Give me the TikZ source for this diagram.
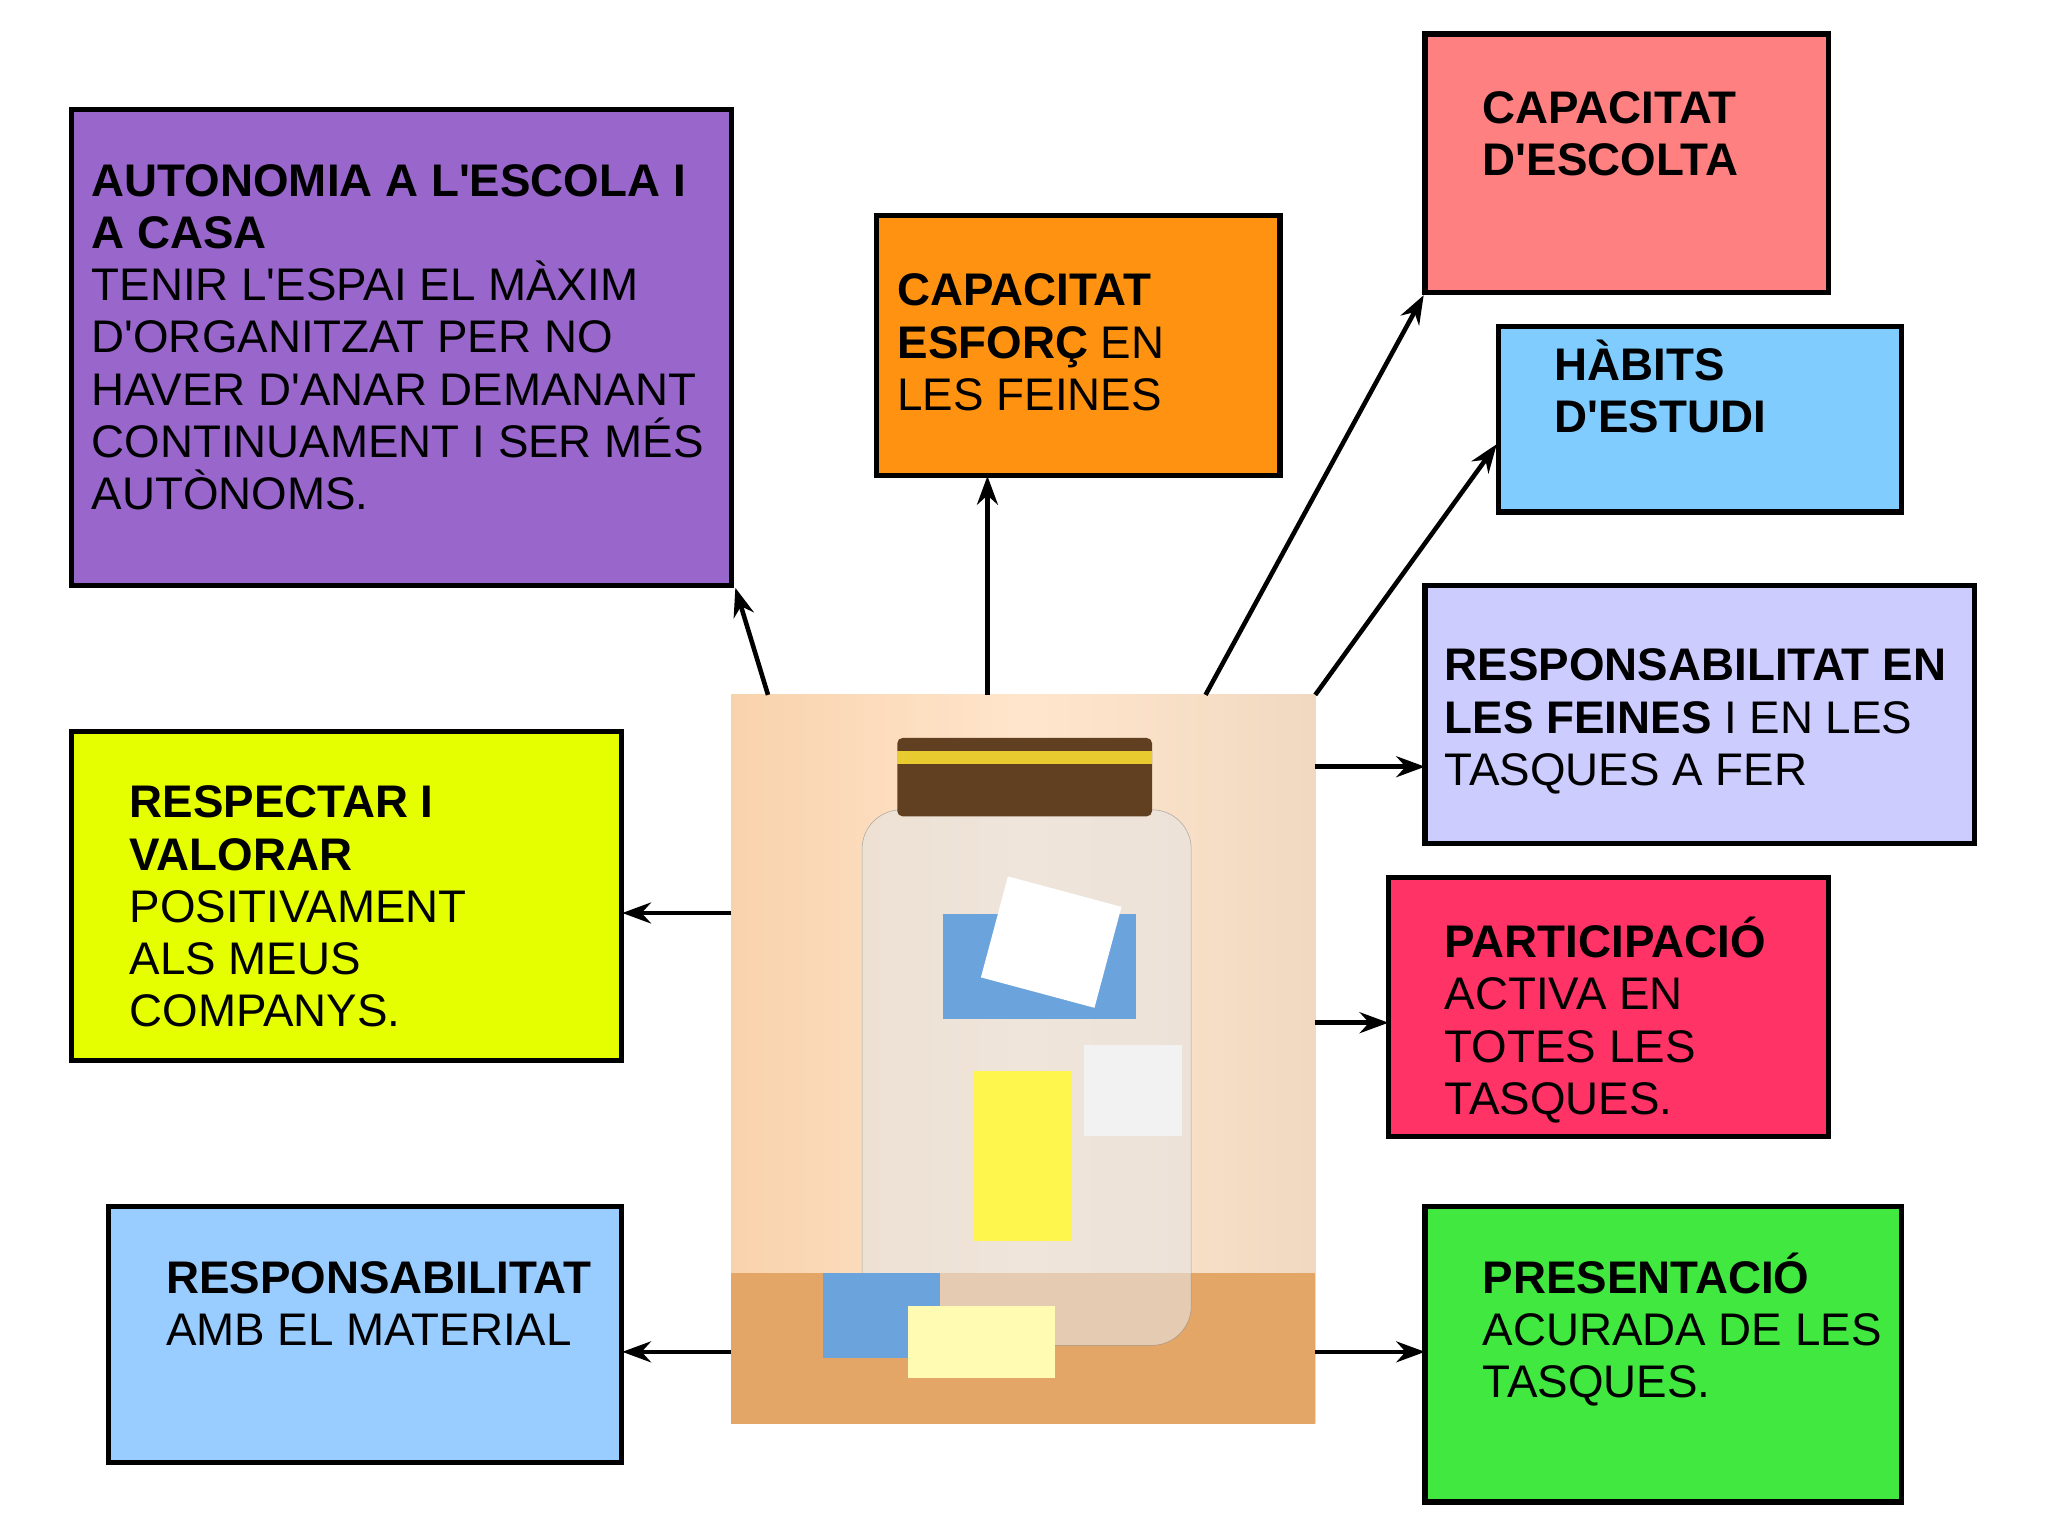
\documentclass[tikz,border=0pt]{standalone}
\usepackage{fontspec}
\usetikzlibrary{arrows.meta}
\newfontfamily\lib{Liberation Sans}
\newcommand\ap{'}
\definecolor{cpurple}{HTML}{9966CC}
\definecolor{corange}{HTML}{FF9311}
\definecolor{cpink}{HTML}{FF8080}
\definecolor{chab}{HTML}{80CCFF}
\definecolor{clav}{HTML}{CCCCFF}
\definecolor{cred}{HTML}{FF3366}
\definecolor{cgreen}{HTML}{40E840}
\definecolor{cyel}{HTML}{E6FF00}
\definecolor{cblue}{HTML}{99CCFF}
\begin{document}
\begin{tikzpicture}[x=1pt,y=-1pt,
 box/.style={draw=black,line width=4pt},
 txt/.style={anchor=north west,align=left,inner sep=0pt,font=\lib\fontsize{35}{40}\selectfont},
 arr/.style={line width=3.5pt,-{Stealth[length=22pt,width=16pt]}}]
\useasboundingbox[fill=white] (0,0) rectangle (1568,1176);
% jar picture
\fill[left color=brown!30!orange!35,right color=orange!25!brown!30,middle color=orange!20] (560,532) rectangle (1007,1090);
\fill[brown!60!orange!70] (560,975) rectangle (1007,1090);
\node[inner sep=0pt,minimum width=447pt,minimum height=558pt,anchor=north west] (jar) at (560,532) {};
\fill[white!80!gray,opacity=0.6,draw=gray,rounded corners=30pt] (660,620) rectangle (912,1030);
\fill[brown!50!black,rounded corners=4pt] (687,565) rectangle (882,625);
\fill[yellow!60!brown] (687,575) rectangle (882,585);
\fill[cyan!60!blue!60] (722,700) rectangle (870,780);
\fill[white,rotate around={-15:(800,720)}] (760,680) rectangle (850,760);
\fill[yellow!70] (745,820) rectangle (820,950);
\fill[white!90!gray] (830,800) rectangle (905,870);
\fill[cyan!60!blue!60] (630,975) rectangle (720,1040);
\fill[yellow!30] (695,1000) rectangle (808,1055);
% boxes
\draw[box,fill=cpurple] (55,84) rectangle (560,448);
\node[inner sep=0pt,minimum width=505pt,minimum height=364pt,anchor=north west] (auto) at (55,84) {};
\node[txt] at (70,120) {\rule{0pt}{30pt}\textbf{AUTONOMIA A L\ap ESCOLA I}\\\textbf{A CASA}\\TENIR L\ap ESPAI EL MÀXIM\\D\ap ORGANITZAT PER NO\\HAVER D\ap ANAR DEMANANT\\CONTINUAMENT I SER MÉS\\AUTÒNOMS.};
\draw[box,fill=corange] (671,165) rectangle (980,364);
\node[inner sep=0pt,minimum width=309pt,minimum height=199pt,anchor=north west] (esf) at (671,165) {};
\node[txt] at (687,204) {\rule{0pt}{30pt}\textbf{CAPACITAT}\\\textbf{ESFORÇ} EN\\LES FEINES};
\draw[box,fill=cpink] (1091,26) rectangle (1400,224);
\node[inner sep=0pt,minimum width=309pt,minimum height=198pt,anchor=north west] (esc) at (1091,26) {};
\node[txt] at (1135,64) {\rule{0pt}{30pt}\textbf{CAPACITAT}\\\textbf{D\ap ESCOLTA}};
\draw[box,fill=chab] (1147,250) rectangle (1456,392);
\node[inner sep=0pt,minimum width=309pt,minimum height=142pt,anchor=north west] (hab) at (1147,250) {};
\node[txt] at (1190,260) {\rule{0pt}{30pt}\textbf{HÀBITS}\\\textbf{D\ap ESTUDI}};
\draw[box,fill=clav] (1091,448) rectangle (1512,646);
\node[inner sep=0pt,minimum width=421pt,minimum height=198pt,anchor=north west] (resp) at (1091,448) {};
\node[txt] at (1106,491) {\rule{0pt}{30pt}\textbf{RESPONSABILITAT EN}\\\textbf{LES FEINES} I EN LES\\TASQUES A FER};
\draw[box,fill=cred] (1063,672) rectangle (1400,870);
\node[inner sep=0pt,minimum width=337pt,minimum height=198pt,anchor=north west] (part) at (1063,672) {};
\node[txt] at (1106,702) {\rule{0pt}{30pt}\textbf{PARTICIPACIÓ}\\ACTIVA EN\\TOTES LES\\TASQUES.};
\draw[box,fill=cgreen] (1091,924) rectangle (1456,1150);
\node[inner sep=0pt,minimum width=365pt,minimum height=226pt,anchor=north west] (pres) at (1091,924) {};
\node[txt] at (1135,959) {\rule{0pt}{30pt}\textbf{PRESENTACIÓ}\\ACURADA DE LES\\TASQUES.};
\draw[box,fill=cyel] (55,560) rectangle (476,812);
\node[inner sep=0pt,minimum width=421pt,minimum height=252pt,anchor=north west] (resv) at (55,560) {};
\node[txt] at (99,596) {\rule{0pt}{30pt}\textbf{RESPECTAR I}\\\textbf{VALORAR}\\POSITIVAMENT\\ALS MEUS\\COMPANYS.};
\draw[box,fill=cblue] (83,924) rectangle (476,1120);
\node[inner sep=0pt,minimum width=393pt,minimum height=196pt,anchor=north west] (mat) at (83,924) {};
\node[txt] at (127,960) {\rule{0pt}{30pt}\textbf{RESPONSABILITAT}\\AMB EL MATERIAL};
% arrows
\coordinate (a1) at (588,532); \coordinate (a1e) at (563,450);
\draw[arr] (a1) -- (a1e);
\coordinate (a2) at (756,532);
\draw[arr] (a2) -- (a2 |- esf.south);
\coordinate (a3) at (923,532); \coordinate (a3e) at (1090,226);
\draw[arr] (a3) -- (a3e);
\coordinate (a4) at (1007,532); \coordinate (a4e) at (1146,340);
\draw[arr] (a4) -- (a4e);
\coordinate (a5) at (1007,587);
\draw[arr] (a5) -- (a5 -| resp.west);
\coordinate (a6) at (560,699);
\draw[arr] (a6) -- (a6 -| resv.east);
\coordinate (a7) at (1007,783);
\draw[arr] (a7) -- (a7 -| part.west);
\coordinate (a8) at (560,1035);
\draw[arr] (a8) -- (a8 -| mat.east);
\coordinate (a9) at (1007,1035);
\draw[arr] (a9) -- (a9 -| pres.west);
\end{tikzpicture}
\end{document}
